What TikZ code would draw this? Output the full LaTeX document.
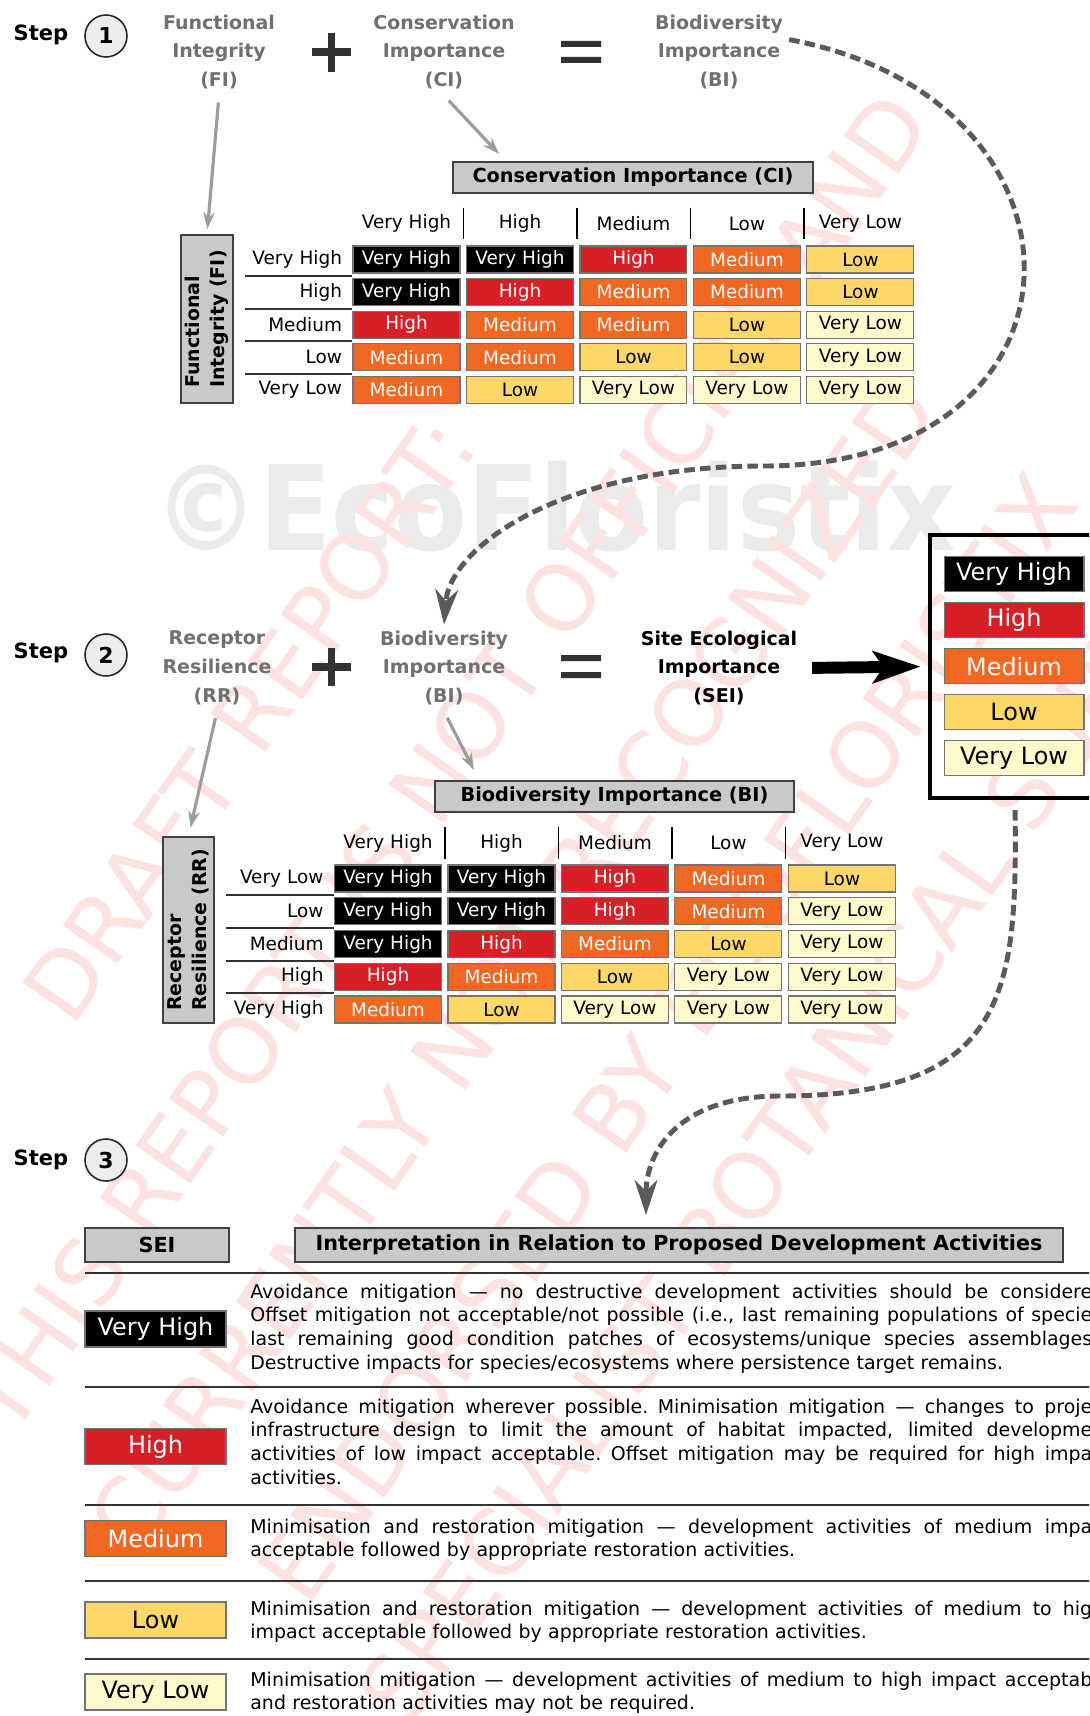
\documentclass[tikz,border=0pt]{standalone}
\usepackage{fontspec}
\setmainfont{DejaVu Sans}
\usetikzlibrary{arrows.meta}

\definecolor{vhfill}{HTML}{000000}
\definecolor{hfill}{HTML}{D71F27}
\definecolor{mfill}{HTML}{F26822}
\definecolor{lfill}{HTML}{FDD868}
\definecolor{vlfill}{HTML}{FFFACC}
\definecolor{boxgray}{HTML}{C9C9C9}
\definecolor{termgray}{HTML}{707070}
\definecolor{circfill}{HTML}{EDEDED}
\definecolor{signgray}{HTML}{333333}
\definecolor{dashgray}{HTML}{5A5A5A}
\definecolor{arrowgray}{HTML}{9C9C9C}
\definecolor{markgray}{HTML}{EBEBEB}
\definecolor{markred}{HTML}{FDE2E2}

% one line of a justified paragraph, stretched to the page edge
\newcommand{\justline}[1]{\makebox[16.84cm][s]{\spaceskip=0.318em plus 3em minus 0.05em\relax #1}}

\begin{document}
\begin{tikzpicture}[x=0.02cm, y=-0.02cm]

\tikzstyle{stepword}=[font={\fontsize{12}{14}\selectfont\bfseries}]
\tikzstyle{stepnum}=[circle, draw=black!85, line width=0.9pt, fill=circfill, minimum size=0.84cm, inner sep=0pt, font={\fontsize{12.5}{14}\selectfont\bfseries}]
\tikzstyle{term}=[align=center, text=termgray, font={\fontsize{10.8}{16.4}\selectfont\bfseries}]
\tikzstyle{result}=[term, text=black]
\tikzstyle{titlebox}=[draw=black!75, line width=0.9pt, fill=boxgray, inner sep=0pt, minimum height=0.62cm, font={\fontsize{11}{13}\selectfont\bfseries}]
\tikzstyle{sidebox}=[titlebox, rotate=90, align=left, font={\fontsize{10.8}{14.2}\selectfont\bfseries}]
\tikzstyle{cell}=[draw=black!55, line width=0.6pt, minimum width=2.14cm, minimum height=0.54cm, inner sep=0pt, node distance=2.27cm, font={\fontsize{10.5}{12}\selectfont}]
\tikzstyle{vh}=[cell, fill=vhfill, text=white]
\tikzstyle{hi}=[cell, fill=hfill, text=white]
\tikzstyle{me}=[cell, fill=mfill, text=white]
\tikzstyle{lo}=[cell, fill=lfill]
\tikzstyle{vl}=[cell, fill=vlfill]
\tikzstyle{colhead}=[minimum width=2.27cm, minimum height=0.62cm, inner sep=0pt, node distance=2.27cm, font={\fontsize{10.5}{12}\selectfont}]
\tikzstyle{rowhead}=[text width=1.88cm, align=right, inner xsep=0.06cm, inner ysep=0pt, minimum height=0.652cm, node distance=2.23cm, font={\fontsize{10.5}{12}\selectfont}]
\tikzstyle{rowrule}=[line width=1.2pt, black!80]
\tikzstyle{colrule}=[line width=0.9pt]
\tikzstyle{legitem}=[minimum width=2.8cm, minimum height=0.7cm, font={\fontsize{13.6}{15}\selectfont}]
\tikzstyle{seilab}=[minimum width=2.82cm, minimum height=0.72cm, font={\fontsize{13.6}{15}\selectfont}]
\tikzstyle{desc}=[anchor=base west, text width=17.3cm, inner sep=0pt, align=left, font={\fontsize{10.8}{13.6}\selectfont}]
\tikzstyle{feed}=[-{Stealth[length=9.5pt, width=6.5pt]}, line width=1.8pt, arrowgray]
\tikzstyle{flow}=[-{Stealth[length=20pt, width=13pt]}, line width=2.8pt, dashgray, dash pattern=on 6pt off 3pt]
\tikzstyle{push}=[-{Stealth[length=27pt, width=18pt, inset=6pt]}, line width=6.8pt, black]
\tikzstyle{sign}=[line width=4pt, signgray]
\tikzstyle{stamp}=[anchor=west, rotate=55, text=markred, inner sep=0pt, font={\fontsize{52}{56}\selectfont}]

\useasboundingbox (0,0) rectangle (1089,1716);
\clip (0,0) rectangle (1089,1716);
\fill[white] (0,0) rectangle (1089,1716);

% watermarks
\node[anchor=base west, text=markgray, inner sep=0pt, font={\fontsize{67}{70}\selectfont\bfseries}] (logo) at (153,550) {\scalebox{0.9}[1]{©EcoFloristix}};
\node[stamp] (mark_a) at (45,1010) {DRAFT REPORT:};
\node[stamp] (mark_b) at (-15,1420) {THIS REPORT IS NOT OFFICIAL AND};
\node[stamp] (mark_c) at (110,1540) {CURRENTLY NOT RECOGNIZED};
\node[stamp] (mark_d) at (280,1590) {ENDORSED BY ECOFLORISTIX};
\node[stamp] (mark_e) at (380,1712) {SPECIALIST BOTANICAL SURVEY};

% step 1
\node[stepword] (step1) at (41,35) {Step};
\node[stepnum] (num1) at (106,36) {1};
\node[term] (fi_term) at (219,52) {Functional\\Integrity\\(FI)};
\node[term] (ci_term) at (444,52) {Conservation\\Importance\\(CI)};
\node[term] (bi_term) at (719,52) {Biodiversity\\Importance\\(BI)};
\draw[sign] (312,52) -- (351,52) (331.5,33) -- (331.5,72);
\fill[signgray] (561,41) rectangle (601,47) (561,57) rectangle (601,63);

\node[titlebox, minimum width=7.2cm] (ci_title) at (633,177.5) {Conservation Importance (CI)};

\node[colhead] (ci_vh) at (406.5,223.5) {Very High};
\node[colhead, right of=ci_vh] (ci_h) {High};
\node[colhead, right of=ci_h] (ci_m) {Medium};
\node[colhead, right of=ci_m] (ci_l) {Low};
\node[colhead, right of=ci_l] (ci_vl) {Very Low};

\node[vh, below of=ci_vh, node distance=0.72cm] (ci11) {Very High};
\node[vh, right of=ci11] (ci12) {Very High};
\node[hi, right of=ci12] (ci13) {High};
\node[me, right of=ci13] (ci14) {Medium};
\node[lo, right of=ci14] (ci15) {Low};
\node[vh, below of=ci11, node distance=0.652cm] (ci21) {Very High};
\node[hi, right of=ci21] (ci22) {High};
\node[me, right of=ci22] (ci23) {Medium};
\node[me, right of=ci23] (ci24) {Medium};
\node[lo, right of=ci24] (ci25) {Low};
\node[hi, below of=ci21, node distance=0.652cm] (ci31) {High};
\node[me, right of=ci31] (ci32) {Medium};
\node[me, right of=ci32] (ci33) {Medium};
\node[lo, right of=ci33] (ci34) {Low};
\node[vl, right of=ci34] (ci35) {Very Low};
\node[me, below of=ci31, node distance=0.652cm] (ci41) {Medium};
\node[me, right of=ci41] (ci42) {Medium};
\node[lo, right of=ci42] (ci43) {Low};
\node[lo, right of=ci43] (ci44) {Low};
\node[vl, right of=ci44] (ci45) {Very Low};
\node[me, below of=ci41, node distance=0.652cm] (ci51) {Medium};
\node[lo, right of=ci51] (ci52) {Low};
\node[vl, right of=ci52] (ci53) {Very Low};
\node[vl, right of=ci53] (ci54) {Very Low};
\node[vl, right of=ci54] (ci55) {Very Low};

\node[rowhead, left of=ci11] (fi_vh) {Very High};
\node[rowhead, left of=ci21] (fi_h) {High};
\node[rowhead, left of=ci31] (fi_m) {Medium};
\node[rowhead, left of=ci41] (fi_l) {Low};
\node[rowhead, left of=ci51] (fi_vl) {Very Low};

\draw[rowrule] (fi_vh.south west) -- (fi_vh.south west -| ci11.west);
\draw[rowrule] (fi_h.south west) -- (fi_h.south west -| ci21.west);
\draw[rowrule] (fi_m.south west) -- (fi_m.south west -| ci31.west);
\draw[rowrule] (fi_l.south west) -- (fi_l.south west -| ci41.west);
\draw[colrule] (ci_vh.north east) -- (ci_vh.south east);
\draw[colrule] (ci_h.north east) -- (ci_h.south east);
\draw[colrule] (ci_m.north east) -- (ci_m.south east);
\draw[colrule] (ci_l.north east) -- (ci_l.south east);

\node[sidebox, minimum width=3.36cm, minimum height=1.04cm] (fi_box) at (207,319) {Functional\\Integrity (FI)};

\coordinate (ci_tip) at (499,154);
\draw[feed, shorten <=4pt, shorten >=3pt] (fi_term.south) -- (fi_box.east);
\draw[feed, shorten <=4pt] (ci_term.south) -- (ci_tip);

% step 2
\node[stepword] (step2) at (41,653) {Step};
\node[stepnum] (num2) at (106,655) {2};
\node[term] (rr_term) at (217,668) {Receptor\\Resilience\\(RR)};
\node[term] (bi_term2) at (444,668) {Biodiversity\\Importance\\(BI)};
\node[result] (sei_term) at (719,668) {Site Ecological\\Importance\\(SEI)};
\draw[sign] (312,667) -- (351,667) (331.5,648) -- (331.5,686);
\fill[signgray] (561,655) rectangle (601,661) (561,672) rectangle (601,678);

\node[draw, line width=1.8pt, minimum width=3.4cm, minimum height=5.26cm] (legend) at (1015,666.5) {};
\node[vh, legitem] (leg_vh) at (1014,574) {Very High};
\node[hi, legitem, below of=leg_vh, node distance=0.922cm] (leg_h) {High};
\node[me, legitem, below of=leg_h, node distance=0.922cm] (leg_m) {Medium};
\node[lo, legitem, below of=leg_m, node distance=0.922cm] (leg_l) {Low};
\node[vl, legitem, below of=leg_l, node distance=0.922cm] (leg_vl) {Very Low};

\draw[push, shorten <=5pt, shorten >=4.5pt] (sei_term.east) -- (legend.west);

\coordinate (bend1) at (764,466);
\draw[flow] (bi_term.10) .. controls +(320,60) and +(340,0) .. (bend1) .. controls +(-200,0) and +(6,-79) .. (bi_term2.north);

\node[titlebox, minimum width=7.18cm] (bi_title) at (614.5,796.5) {Biodiversity Importance (BI)};

\node[colhead] (bi_vh) at (388,843) {Very High};
\node[colhead, right of=bi_vh] (bi_h) {High};
\node[colhead, right of=bi_h] (bi_m) {Medium};
\node[colhead, right of=bi_m] (bi_l) {Low};
\node[colhead, right of=bi_l] (bi_vl) {Very Low};

\node[vh, below of=bi_vh, node distance=0.71cm] (bi11) {Very High};
\node[vh, right of=bi11] (bi12) {Very High};
\node[hi, right of=bi12] (bi13) {High};
\node[me, right of=bi13] (bi14) {Medium};
\node[lo, right of=bi14] (bi15) {Low};
\node[vh, below of=bi11, node distance=0.655cm] (bi21) {Very High};
\node[vh, right of=bi21] (bi22) {Very High};
\node[hi, right of=bi22] (bi23) {High};
\node[me, right of=bi23] (bi24) {Medium};
\node[vl, right of=bi24] (bi25) {Very Low};
\node[vh, below of=bi21, node distance=0.655cm] (bi31) {Very High};
\node[hi, right of=bi31] (bi32) {High};
\node[me, right of=bi32] (bi33) {Medium};
\node[lo, right of=bi33] (bi34) {Low};
\node[vl, right of=bi34] (bi35) {Very Low};
\node[hi, below of=bi31, node distance=0.655cm] (bi41) {High};
\node[me, right of=bi41] (bi42) {Medium};
\node[lo, right of=bi42] (bi43) {Low};
\node[vl, right of=bi43] (bi44) {Very Low};
\node[vl, right of=bi44] (bi45) {Very Low};
\node[me, below of=bi41, node distance=0.655cm] (bi51) {Medium};
\node[lo, right of=bi51] (bi52) {Low};
\node[vl, right of=bi52] (bi53) {Very Low};
\node[vl, right of=bi53] (bi54) {Very Low};
\node[vl, right of=bi54] (bi55) {Very Low};

\node[rowhead, left of=bi11] (rr_vl) {Very Low};
\node[rowhead, left of=bi21] (rr_l) {Low};
\node[rowhead, left of=bi31] (rr_m) {Medium};
\node[rowhead, left of=bi41] (rr_h) {High};
\node[rowhead, left of=bi51] (rr_vh) {Very High};

\draw[rowrule] (rr_vl.south west) -- (rr_vl.south west -| bi11.west);
\draw[rowrule] (rr_l.south west) -- (rr_l.south west -| bi21.west);
\draw[rowrule] (rr_m.south west) -- (rr_m.south west -| bi31.west);
\draw[rowrule] (rr_h.south west) -- (rr_h.south west -| bi41.west);
\draw[colrule] (bi_vh.north east) -- (bi_vh.south east);
\draw[colrule] (bi_h.north east) -- (bi_h.south east);
\draw[colrule] (bi_m.north east) -- (bi_m.south east);
\draw[colrule] (bi_l.north east) -- (bi_l.south east);

\node[sidebox, minimum width=3.72cm, minimum height=1.02cm] (rr_box) at (188.5,930) {Receptor\\Resilience (RR)};

\coordinate (bi_tip) at (474,770);
\draw[feed, shorten <=4pt, shorten >=5pt] (rr_term.south) -- (rr_box.east);
\draw[feed, shorten <=4pt] (bi_term2.south) -- (bi_tip);

% step 3
\node[stepword] (step3) at (41,1160) {Step};
\node[stepnum] (num3) at (106,1160) {3};

\coordinate (bend2) at (780,1096);
\coordinate (int_tip) at (646,1215);
\draw[flow, shorten <=6pt] (legend.south) .. controls +(2,190) and +(230,0) .. (bend2) .. controls +(-100,0) and +(0,-65) .. (int_tip);

\node[titlebox, minimum width=2.88cm, minimum height=0.68cm, font={\fontsize{11.8}{14}\selectfont\bfseries}] (sei_head) at (157,1245) {SEI};
\node[titlebox, minimum width=15.36cm, minimum height=0.68cm, font={\fontsize{11.8}{14}\selectfont\bfseries}] (int_head) at (679,1245) {Interpretation in Relation to Proposed Development Activities};

\draw[rowrule] (85,1273) -- (1095,1273);
\draw[rowrule] (85,1387) -- (1095,1387);
\draw[rowrule] (85,1505) -- (1095,1505);
\draw[rowrule] (85,1581) -- (1095,1581);
\draw[rowrule] (85,1659) -- (1095,1659);

\node[vh, seilab] (sei_vh) at (155.5,1329) {Very High};
\node[hi, seilab] (sei_h) at (155.5,1446.5) {High};
\node[me, seilab] (sei_m) at (155.5,1538.5) {Medium};
\node[lo, seilab] (sei_l) at (155.5,1620) {Low};
\node[vl, seilab] (sei_vl) at (155.5,1692) {Very Low};

\node[desc] (txt_vh) at (250,1298) {\justline{Avoidance mitigation — no destructive development activities should be considere}\\
\justline{Offset mitigation not acceptable/not possible (i.e., last remaining populations of specie}\\
\justline{last remaining good condition patches of ecosystems/unique species assemblages}\\
Destructive impacts for species/ecosystems where persistence target remains.};
\node[desc] (txt_h) at (250,1413) {\justline{Avoidance mitigation wherever possible. Minimisation mitigation — changes to proje}\\
\justline{infrastructure design to limit the amount of habitat impacted, limited developme}\\
\justline{activities of low impact acceptable. Offset mitigation may be required for high impa}\\
activities.};
\node[desc] (txt_m) at (250,1533) {\justline{Minimisation and restoration mitigation — development activities of medium impa}\\
acceptable followed by appropriate restoration activities.};
\node[desc] (txt_l) at (250,1615) {\justline{Minimisation and restoration mitigation — development activities of medium to hig}\\
impact acceptable followed by appropriate restoration activities.};
\node[desc] (txt_vl) at (250,1686) {\justline{Minimisation mitigation — development activities of medium to high impact acceptab}\\
and restoration activities may not be required.};

\end{tikzpicture}
\end{document}
